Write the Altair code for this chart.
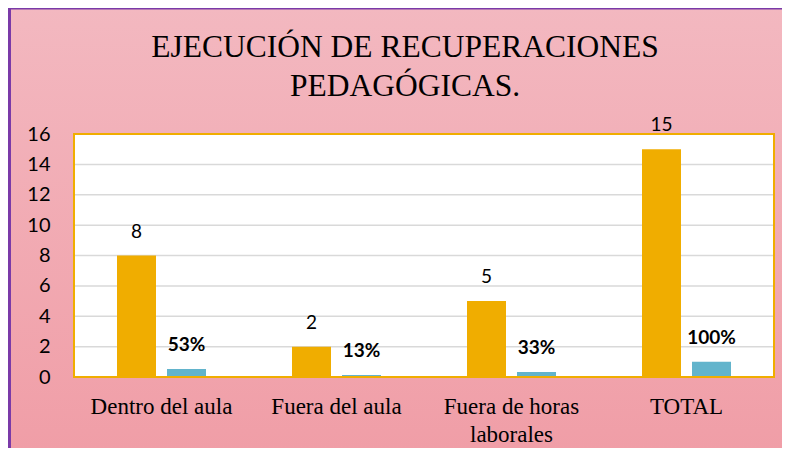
import altair as alt
import pandas as pd

categorias = ["Dentro del aula", "Fuera del aula", "Fuera de horas laborales", "TOTAL"]
cantidades = [8, 2, 5, 15]
porcentajes = [0.53, 0.13, 0.33, 1.0]
etiquetas_pct = ["53%", "13%", "33%", "100%"]
series = ["Cantidad", "Porcentaje"]
y_ticks = [0, 2, 4, 6, 8, 10, 12, 14, 16]
titulo = ["EJECUCIÓN DE RECUPERACIONES", "PEDAGÓGICAS."]

rows = []
for c, v, p, e in zip(categorias, cantidades, porcentajes, etiquetas_pct):
    rows.append({"categoria": c, "serie": "Cantidad", "valor": v, "etiqueta": str(v)})
    rows.append({"categoria": c, "serie": "Porcentaje", "valor": p, "etiqueta": e})
df = pd.DataFrame(rows)
ticks_df = pd.DataFrame({"valor": y_ticks})
one = pd.DataFrame({"a": [0]})

W, H = 700, 243
PL, PT, PR, PB = 66, 126, 8, 71

ORANGE = "#f0ad00"
BLUE = "#62b4cc"
PURPLE = "#7a3aa8"

xscale = alt.Scale(domain=categorias, paddingInner=0, paddingOuter=0)
yscale = alt.Scale(domain=[0, 16], nice=False)
xoff_scale = alt.Scale(domain=series, paddingInner=0.22, paddingOuter=0.86)

label_expr = "datum.value == 'Fuera de horas laborales' ? ['Fuera de horas', 'laborales'] : datum.label"

x_axis = alt.Axis(labelFont="Liberation Serif", labelFontSize=23, labelAngle=0,
                  labelPadding=18, domain=False, ticks=False, title=None,
                  labelColor="black", labelLimit=0, grid=False, zindex=1,
                  labelExpr=label_expr, labelLineHeight=28)
y_axis = alt.Axis(values=y_ticks, grid=False, domain=False, ticks=False,
                  labelFont="Lato", labelFontSize=20, labelPadding=24,
                  labelColor="black", title=None, zindex=1)

X = alt.X("categoria:N", sort=categorias, scale=xscale, axis=x_axis)
XO = alt.XOffset("serie:N", scale=xoff_scale)
Y = alt.Y("valor:Q", scale=yscale, axis=y_axis)

bg = alt.Chart(one).mark_rect(
    fill=alt.LinearGradient(
        gradient="linear",
        stops=[alt.GradientStop(color="#f3b8c0", offset=0),
               alt.GradientStop(color="#f09ea7", offset=1)],
        x1=0, x2=0, y1=0, y2=1,
    )
).encode(
    x=alt.value(-PL), x2=alt.value(W + PR + 8),
    y=alt.value(-PT), y2=alt.value(H + PB),
)

plot_bg = alt.Chart(one).mark_rect(fill="white").encode(
    x=alt.value(0), x2=alt.value(W), y=alt.value(0), y2=alt.value(H)
)

grid = alt.Chart(ticks_df).mark_rule(color="#d9d9d9", strokeWidth=1.5).encode(
    y=Y, x=alt.value(0), x2=alt.value(W)
)

bars = alt.Chart(df).mark_bar().encode(
    x=X, xOffset=XO, y=Y,
    color=alt.Color("serie:N", scale=alt.Scale(domain=series, range=[ORANGE, BLUE]), legend=None),
)

lab_cant = alt.Chart(df).transform_filter(alt.datum.serie == "Cantidad").mark_text(
    font="Lato", fontSize=19, baseline="bottom", dy=-14, color="black"
).encode(x=X, xOffset=XO, y=Y, text="etiqueta:N")

lab_pct = alt.Chart(df).transform_filter(alt.datum.serie == "Porcentaje").mark_text(
    font="Lato", fontSize=19, fontWeight="bold", baseline="bottom", dy=-14, color="black"
).encode(x=X, xOffset=XO, y=Y, text="etiqueta:N")

border = alt.Chart(one).mark_rect(fill=None, stroke=ORANGE, strokeWidth=2).encode(
    x=alt.value(0), x2=alt.value(W), y=alt.value(0), y2=alt.value(H)
)

title_mark = alt.Chart(one).mark_text(
    font="Liberation Serif", fontSize=31.5, baseline="top", align="center",
    lineHeight=39, color="black"
).encode(
    x=alt.value(331), y=alt.value(-102), text=alt.value(titulo)
)

left_line = alt.Chart(one).mark_rule(color=PURPLE, strokeWidth=3).encode(
    x=alt.value(-PL + 1.5), y=alt.value(-PT), y2=alt.value(H + PB)
)
top_line = alt.Chart(one).mark_rule(color=PURPLE, strokeWidth=2).encode(
    y=alt.value(-PT + 0.5), x=alt.value(-PL), x2=alt.value(W + PR + 8)
)

chart = alt.layer(
    bg, plot_bg, grid, bars, border, lab_cant, lab_pct, title_mark, left_line, top_line
).properties(
    width=W, height=H,
    padding={"left": PL, "top": PT, "right": PR, "bottom": PB},
    autosize=alt.AutoSizeParams(type="none"),
    background="#f1acb4",
).configure_view(stroke=None)

chart.save("out.html", embed_options={"renderer": "svg", "actions": False})
